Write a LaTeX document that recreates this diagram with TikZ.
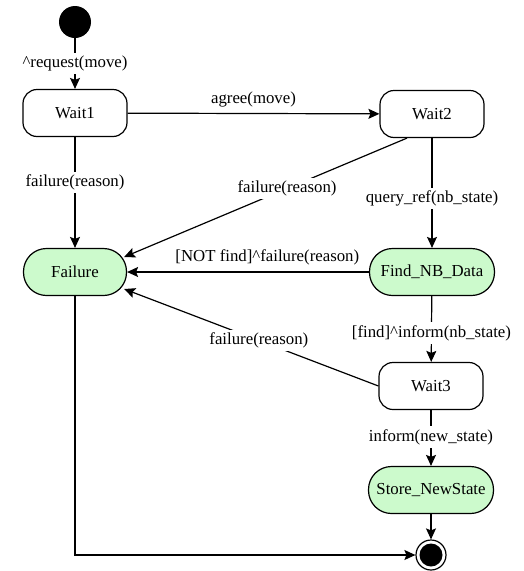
\documentclass[tikz,border=0pt]{standalone}
\usepackage{fontspec}
\setmainfont{Liberation Serif}
\newfontfamily\lblfont{Liberation Serif}
\usetikzlibrary{arrows.meta,calc}
\definecolor{stategreen}{RGB}{204,250,204}
\begin{document}
\begin{tikzpicture}[x=1pt,y=-1pt,
  every node/.style={font=\lblfont\fontsize{16.8}{19}\selectfont},
  wstate/.style={draw, line width=1.2pt, rounded corners=14pt, minimum width=104pt, minimum height=47pt, inner sep=0pt},
  gstate/.style={draw, line width=1.2pt, fill=stategreen, rounded corners=23pt, minimum height=47pt, inner sep=0pt},
  conn/.style={line width=1.2pt, -{Stealth[length=11pt,width=10pt,inset=2pt]}},
  lbl/.style={fill=white, inner sep=3pt},
  albl/.style={above=5pt, inner sep=1pt}
]
\useasboundingbox (0,0) rectangle (524,571);

\node[circle, fill=black, minimum size=32pt, inner sep=0pt] (init) at (75,22) {};
\node[wstate] (w1) at (75,113) {Wait1};
\node[wstate] (w2) at (432,114) {Wait2};
\node[gstate, minimum width=103pt] (fail) at (75,272) {Failure};
\node[gstate, minimum width=125pt] (find) at (432,272) {Find\_NB\_Data};
\node[wstate] (w3) at (431,386) {Wait3};
\node[gstate, minimum width=125pt] (store) at (431,490) {Store\_NewState};
\node[circle, draw, line width=1.2pt, minimum size=30pt, inner sep=0pt] (final) at (431,555) {};
\node[circle, fill=black, minimum size=23pt, inner sep=0pt] (finalin) at (final.center) {};

\draw[conn] (init) -- node[lbl]{\textasciicircum request(move)} (w1);
\draw[conn] (w1) -- node[albl]{agree(move)} (w2);
\draw[conn] (w1) -- node[lbl, pos=0.41]{failure(reason)} (fail);
\draw[conn] ($(w2.south)+(-25,0)$) -- node[lbl, pos=0.424]{failure(reason)} ($(fail.east)+(-3,-15)$);
\draw[conn] (w2) -- node[lbl, pos=0.55]{query\_ref(nb\_state)} (find);
\draw[conn] (find) -- node[albl, pos=0.42]{[NOT find]\textasciicircum failure(reason)} (fail);
\draw[conn] (find) -- node[lbl, pos=0.56]{[find]\textasciicircum inform(nb\_state)} (w3);
\draw[conn] (w3.west) -- node[lbl, pos=0.47]{failure(reason)} ($(fail.east)+(-3,17)$);
\draw[conn] (w3) -- node[lbl, pos=0.48]{inform(new\_state)} (store);
\draw[conn] (store) -- (final);
\draw[conn] (fail.south) |- (final.west);
\end{tikzpicture}
\end{document}
